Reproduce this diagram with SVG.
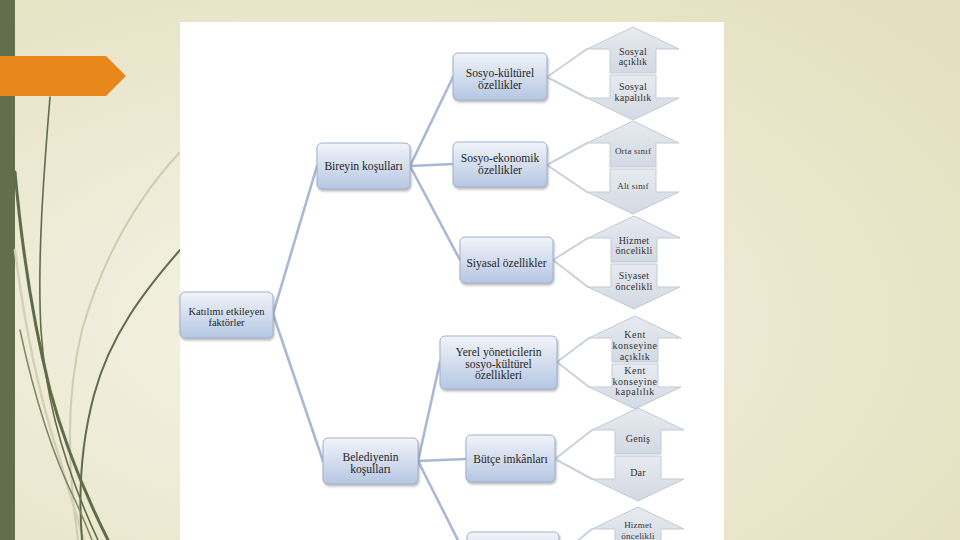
<svg xmlns="http://www.w3.org/2000/svg" xmlns:xlink="http://www.w3.org/1999/xlink" width="960" height="540" viewBox="0 0 960 540">
<defs>
<radialGradient id="bg" cx="0.35" cy="0.6" r="0.8">
<stop offset="0" stop-color="#f5f3e7"/>
<stop offset="1" stop-color="#e4e0bf"/>
</radialGradient>
<linearGradient id="nodeFill" x1="0" y1="0" x2="0" y2="1">
<stop offset="0" stop-color="#f1f4f9"/>
<stop offset="1" stop-color="#b6c7e3"/>
</linearGradient>
<linearGradient id="arrFill" x1="0" y1="0" x2="0" y2="1">
<stop offset="0" stop-color="#e7eaf0"/>
<stop offset="1" stop-color="#d3d9e3"/>
</linearGradient>
<filter id="sh" x="-10%" y="-10%" width="125%" height="135%">
<feDropShadow dx="1" dy="2" stdDeviation="1.3" flood-color="#555" flood-opacity="0.4"/>
</filter>
<path id="up" d="M0,0 L46,22 L23,22 L23,46 L-23,46 L-23,22 L-46,22 Z"/>
<path id="down" d="M-23,48 L23,48 L23,71 L46,71 L0,93 L-46,71 L-23,71 Z"/>
</defs>
<style>
.node rect{fill:url(#nodeFill);stroke:#9fb0ca;stroke-width:1;filter:url(#sh)}
.node text{font-family:"Liberation Serif","DejaVu Serif",serif;font-size:11.6px;fill:#262626;text-anchor:middle}
#n-root text{font-size:10.5px}
.arr use{fill:url(#arrFill);stroke:#c3cad5;stroke-width:1}
.arr text{font-family:"Liberation Serif","DejaVu Serif",serif;font-size:10px;fill:#333;text-anchor:middle;letter-spacing:0.2px}
#a-sinif text{font-size:9px}
#a-hizmet2 text{font-size:9px}
#a-kent text{letter-spacing:0.5px}
.conn line{stroke:#a9b9d5;stroke-width:2.6;stroke-linecap:round}
.conn .lt{stroke:#c9d1de;stroke-width:2}
.grass{fill:none;stroke-linecap:round}
</style>

<!-- background -->
<rect x="0" y="0" width="960" height="540" fill="url(#bg)"/>
<rect x="0" y="0" width="15" height="540" fill="#616f4c"/>

<!-- decorative grass -->
<g class="grass">
<path d="M180,152 C140,195 105,250 82,330 C65,400 68,470 78,540" stroke="#cfcdb0" stroke-width="2"/>
<path d="M15,250 C25,330 40,400 60,460 C70,495 78,520 84,540" stroke="#d3d1b6" stroke-width="2.5"/>
<path d="M50,97 C44,170 37,260 41,330 C46,410 70,480 98,540" stroke="#5e6d48" stroke-width="1.6"/>
<path d="M15,172 C22,250 35,330 50,390 C66,450 88,500 108,540" stroke="#5e6d48" stroke-width="3"/>
<path d="M180,250 C145,290 110,335 94,395 C82,440 78,490 82,540" stroke="#5e6d48" stroke-width="2"/>
<path d="M20,330 C35,400 55,460 75,500 C82,515 88,530 92,540" stroke="#7c8863" stroke-width="1.5"/>
</g>

<!-- orange tab -->
<path d="M0,56 L106,56 L126,76 L106,96 L0,96 Z" fill="#e8871c"/>

<!-- white panel -->
<rect x="180" y="22" width="544" height="518" fill="#ffffff"/>

<!-- connectors -->
<g id="connectors" class="conn">
<line x1="273" y1="314" x2="317" y2="166"/>
<line x1="273" y1="314" x2="323" y2="461"/>
<line x1="410" y1="166" x2="453" y2="77"/>
<line x1="410" y1="166" x2="453" y2="164"/>
<line x1="410" y1="166" x2="460" y2="260"/>
<line x1="418" y1="461" x2="440" y2="362"/>
<line x1="418" y1="461" x2="466" y2="459"/>
<line x1="418" y1="461" x2="468" y2="560"/>
<line class="lt" x1="547" y1="77" x2="587" y2="49"/>
<line class="lt" x1="547" y1="77" x2="587" y2="98"/>
<line class="lt" x1="547" y1="165" x2="587" y2="143"/>
<line class="lt" x1="547" y1="165" x2="587" y2="192"/>
<line class="lt" x1="553" y1="260" x2="588" y2="238"/>
<line class="lt" x1="553" y1="260" x2="588" y2="287"/>
<line class="lt" x1="557" y1="362" x2="589" y2="338"/>
<line class="lt" x1="557" y1="362" x2="589" y2="387"/>
<line class="lt" x1="555" y1="459" x2="592" y2="430"/>
<line class="lt" x1="555" y1="459" x2="592" y2="479"/>
<line class="lt" x1="559" y1="556" x2="592" y2="529"/>
</g>

<!-- nodes -->
<g id="n-root" class="node">
<rect x="180" y="292" width="93" height="46" rx="5"/>
<text x="226.5" y="314.5">Katılımı etkileyen</text>
<text x="226.5" y="325.5">faktörler</text>
</g>
<g id="n-bireyin" class="node">
<rect x="317" y="143" width="93" height="46" rx="5"/>
<text x="363.5" y="170">Bireyin koşulları</text>
</g>
<g id="n-belediye" class="node">
<rect x="323" y="438" width="95" height="46" rx="5"/>
<text x="370.5" y="461">Belediyenin</text>
<text x="370.5" y="472.5">koşulları</text>
</g>
<g id="n-sosyokult" class="node">
<rect x="453" y="53" width="94" height="47" rx="5"/>
<text x="500" y="76.5">Sosyo-kültürel</text>
<text x="500" y="88.5">özellikler</text>
</g>
<g id="n-sosyoeko" class="node">
<rect x="453" y="142" width="94" height="45" rx="5"/>
<text x="500" y="161.5">Sosyo-ekonomik</text>
<text x="500" y="173.5">özellikler</text>
</g>
<g id="n-siyasal" class="node">
<rect x="460" y="237" width="93" height="46" rx="5"/>
<text x="506.5" y="267">Siyasal özellikler</text>
</g>
<g id="n-yerel" class="node">
<rect x="440" y="336" width="117" height="53" rx="5"/>
<text x="498.5" y="356">Yerel yöneticilerin</text>
<text x="498.5" y="367.5">sosyo-kültürel</text>
<text x="498.5" y="379">özellikleri</text>
</g>
<g id="n-butce" class="node">
<rect x="466" y="435" width="89" height="47" rx="5"/>
<text x="510.5" y="463">Bütçe imkânları</text>
</g>
<g id="n-last" class="node">
<rect x="467" y="532" width="92" height="46" rx="5"/>
</g>

<!-- opposing arrows -->
<g id="a-sosyal" class="arr" transform="translate(633,27)">
<use xlink:href="#up"/>
<use xlink:href="#down"/>
<text x="0" y="27.5">Sosyal</text>
<text x="0" y="38">açıklık</text>
<text x="0" y="63">Sosyal</text>
<text x="0" y="73.5">kapalılık</text>
</g>
<g id="a-sinif" class="arr" transform="translate(633,121)">
<use xlink:href="#up"/>
<use xlink:href="#down"/>
<text x="0" y="33">Orta sınıf</text>
<text x="0" y="68">Alt sınıf</text>
</g>
<g id="a-hizmet" class="arr" transform="translate(634,216)">
<use xlink:href="#up"/>
<use xlink:href="#down"/>
<text x="0" y="27.5">Hizmet</text>
<text x="0" y="38">öncelikli</text>
<text x="0" y="63">Siyaset</text>
<text x="0" y="73.5">öncelikli</text>
</g>
<g id="a-kent" class="arr" transform="translate(635,316)">
<use xlink:href="#up"/>
<use xlink:href="#down"/>
<text x="0" y="21.5">Kent</text>
<text x="0" y="32.5">konseyine</text>
<text x="0" y="43.5">açıklık</text>
<text x="0" y="57.5">Kent</text>
<text x="0" y="68.5">konseyine</text>
<text x="0" y="79">kapalılık</text>
</g>
<g id="a-butce" class="arr" transform="translate(638,408)">
<use xlink:href="#up"/>
<use xlink:href="#down"/>
<text x="0" y="33.5">Geniş</text>
<text x="0" y="68">Dar</text>
</g>
<g id="a-hizmet2" class="arr" transform="translate(638,507)">
<use xlink:href="#up"/>
<use xlink:href="#down"/>
<text x="0" y="21">Hizmet</text>
<text x="0" y="31.5">öncelikli</text>
</g>
</svg>
